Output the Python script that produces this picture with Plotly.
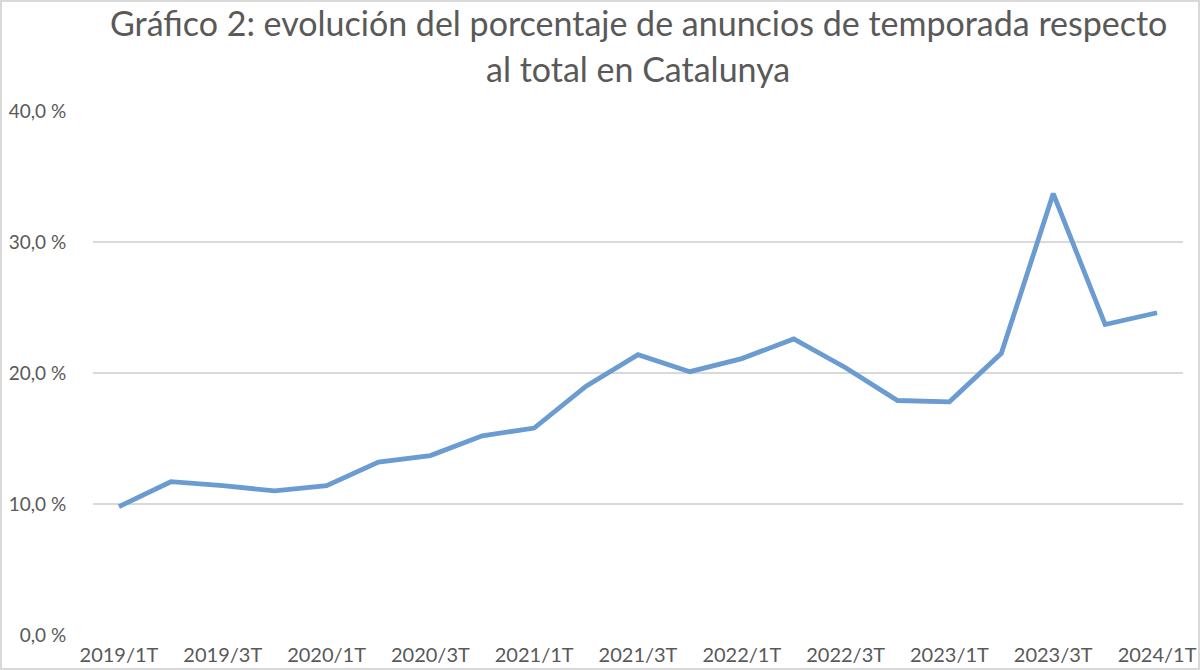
import plotly.graph_objects as go

# quarters on the category axis
quarters = [
    "2019/1T", "2019/2T", "2019/3T", "2019/4T",
    "2020/1T", "2020/2T", "2020/3T", "2020/4T",
    "2021/1T", "2021/2T", "2021/3T", "2021/4T",
    "2022/1T", "2022/2T", "2022/3T", "2022/4T",
    "2023/1T", "2023/2T", "2023/3T", "2023/4T",
    "2024/1T",
]
# % of seasonal listings over total
pct_temporada = [
    9.8, 11.7, 11.4, 11.0,
    11.4, 13.2, 13.7, 15.2,
    15.8, 19.0, 21.4, 20.1,
    21.1, 22.6, 20.4, 17.9,
    17.8, 21.5, 33.7, 23.7,
    24.6,
]
x_tick_labels = quarters[::2]
y_tick_vals = [0, 10, 20, 30, 40]
y_tick_text = ["0,0 %", "10,0 %", "20,0 %", "30,0 %", "40,0 %"]
title_lines = [
    "Gráfico 2: evolución del porcentaje de anuncios de temporada respecto",
    "al total en Catalunya",
]

GREY = "#595959"
FONT = "Lato"
W, H = 1200, 670
M = {"l": 93, "r": 17, "t": 111, "b": 35}
plot_w = W - M["l"] - M["r"]
plot_h = H - M["t"] - M["b"]

fig = go.Figure()
fig.add_trace(go.Scatter(
    x=quarters,
    y=pct_temporada,
    mode="lines",
    line={"color": "#6A9BD1", "width": 4.8},
    showlegend=False,
))

# title as two annotations so the line spacing matches
title_y_px = [22, 68]
for text, ypx in zip(title_lines, title_y_px):
    fig.add_annotation(
        text=text,
        xref="paper", yref="paper",
        x=0.5, y=1 + (M["t"] - ypx) / plot_h,
        xanchor="center", yanchor="middle",
        showarrow=False,
        font={"family": FONT, "size": 34, "color": GREY},
    )

fig.update_layout(
    width=W,
    height=H,
    paper_bgcolor="white",
    plot_bgcolor="white",
    margin=M,
    font={"family": FONT, "color": GREY, "size": 19},
    xaxis={
        "type": "category",
        "range": [-0.5, len(quarters) - 0.5],
        "tickvals": x_tick_labels,
        "ticktext": x_tick_labels,
        "showgrid": False,
        "showline": False,
        "ticks": "outside",
        "ticklen": 2,
        "tickcolor": "rgba(0,0,0,0)",
        "tickfont": {"size": 20, "color": GREY},
        "automargin": False,
    },
    yaxis={
        "range": [0, 40],
        "tickvals": y_tick_vals,
        "ticktext": y_tick_text,
        "showgrid": True,
        "gridcolor": "#D9D9D9",
        "gridwidth": 1.5,
        "zeroline": False,
        "ticks": "outside",
        "ticklen": 22,
        "tickcolor": "rgba(0,0,0,0)",
        "tickfont": {"size": 19, "color": GREY},
        "automargin": False,
    },
    shapes=[{
        "type": "rect",
        "xref": "paper", "yref": "paper",
        "x0": -(M["l"] - 1) / plot_w, "x1": 1 + (M["r"] - 1) / plot_w,
        "y0": -(M["b"] - 1) / plot_h, "y1": 1 + (M["t"] - 1) / plot_h,
        "line": {"color": "#D9D9D9", "width": 2},
    }],
)

fig.write_html(
    "out.html",
    config={"displayModeBar": False},
    post_script="document.body.style.margin='0';",
)
